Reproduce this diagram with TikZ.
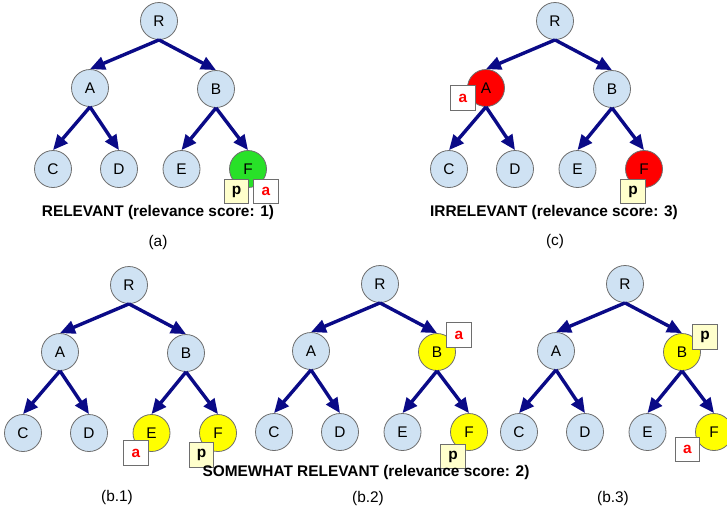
\documentclass[tikz,border=0pt]{standalone}
\usepackage{fontspec}
\setmainfont{Liberation Sans}
\usetikzlibrary{arrows.meta}
\definecolor{navyc}{RGB}{10,10,135}
\definecolor{nodeblue}{RGB}{207,226,243}
\definecolor{nodegreen}{RGB}{40,225,40}
\definecolor{nodered}{RGB}{255,0,0}
\definecolor{nodeyellow}{RGB}{255,255,0}
\definecolor{pyellow}{RGB}{255,255,204}
\definecolor{bordergray}{RGB}{110,110,110}
\newcommand\drawtree[7]{%
  \node[tn, fill=nodeblue] (#1R) at (#2,#3) {R};
  \node[tn, fill=#4] (#1A) at (#2-69,#3+67) {A};
  \node[tn, fill=#5] (#1B) at (#2+57,#3+68) {B};
  \node[tn, fill=nodeblue] (#1C) at (#2-106,#3+148) {C};
  \node[tn, fill=nodeblue] (#1D) at (#2-40,#3+148) {D};
  \node[tn, fill=#6] (#1E) at (#2+22.5,#3+148) {E};
  \node[tn, fill=#7] (#1F) at (#2+89,#3+148) {F};
  \draw[edge] (#1R.south) -- (#1A.north);
  \draw[edge] (#1R.south) -- (#1B.north);
  \draw[edge] (#1A.south) -- (#1C.north);
  \draw[edge] (#1A.south) -- (#1D.north);
  \draw[edge] (#1B.south) -- (#1E.north);
  \draw[edge] (#1B.south) -- (#1F.north);
}
\begin{document}
\begin{tikzpicture}[x=1pt,y=-1pt,
  tn/.style={circle, draw=bordergray, line width=0.8pt, minimum size=37pt, inner sep=0pt,
    font=\fontsize{15.4}{18}\selectfont},
  edge/.style={draw=navyc, line width=3.4pt, -{Triangle[length=15pt,width=13pt]}},
  pbox/.style={draw=bordergray, line width=0.8pt, fill=pyellow, minimum size=24.5pt, inner sep=0pt,
    font=\fontsize{15.4}{18}\selectfont\bfseries},
  abox/.style={draw=bordergray, line width=0.8pt, fill=white, minimum size=24.5pt, inner sep=0pt,
    text=red, font=\fontsize{15.4}{18}\selectfont\bfseries},
  captext/.style={font=\fontsize{15.4}{18}\selectfont\bfseries, inner sep=0pt},
  subtext/.style={font=\fontsize{15.4}{18}\selectfont, inner sep=0pt}]
\fill[white] (0,0) rectangle (727,512);
\useasboundingbox (0,0) rectangle (727,512);

\drawtree{a}{159}{21}{nodeblue}{nodeblue}{nodeblue}{nodegreen}
\drawtree{c}{555}{21}{nodered}{nodeblue}{nodeblue}{nodered}
\drawtree{ba}{129}{285}{nodeblue}{nodeblue}{nodeyellow}{nodeyellow}
\drawtree{bb}{380}{284}{nodeblue}{nodeyellow}{nodeblue}{nodeyellow}
\drawtree{bc}{625}{284}{nodeblue}{nodeyellow}{nodeblue}{nodeyellow}

% boxes
\node[pbox] (ap) at (236.5,191.5) {p};
\node[abox] (aa) at (266,191.5) {a};
\node[abox] (ca) at (463,98) {a};
\node[pbox] (cp) at (633,191.5) {p};
\node[abox] (baa) at (136,453) {a};
\node[pbox] (bap) at (201.5,455) {p};
\node[abox] (bba) at (459,335) {a};
\node[pbox] (bbp) at (453,456.5) {p};
\node[pbox] (bcp) at (705,337) {p};
\node[abox] (bca) at (687.5,449.5) {a};

% captions
\node[captext] (capa) at (158,213) {RELEVANT (relevance score: 1)};
\node[subtext] (suba) at (158,243) {(a)};
\node[captext] (capc) at (554,213) {IRRELEVANT (relevance score: 3)};
\node[subtext] (subc) at (555,242) {(c)};
\node[captext] (capb) at (366,473) {SOMEWHAT RELEVANT (relevance score: 2)};
\node[subtext] (subb1) at (117,498) {(b.1)};
\node[subtext] (subb2) at (368,499) {(b.2)};
\node[subtext] (subb3) at (613,499) {(b.3)};
\end{tikzpicture}
\end{document}
